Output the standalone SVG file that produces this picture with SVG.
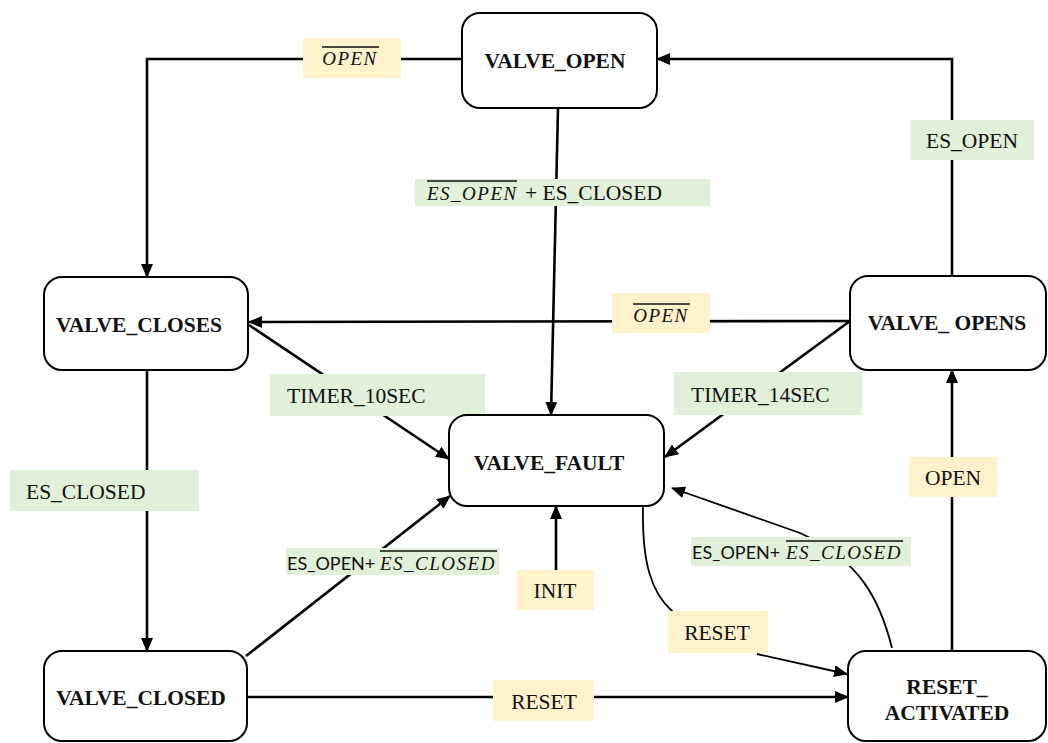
<svg xmlns="http://www.w3.org/2000/svg" width="1048" height="743" viewBox="0 0 1048 743">
  <style>
    .node rect { fill: #ffffff; stroke: #000000; stroke-width: 2; }
    .node text { font-family: "Liberation Serif", "Times New Roman", serif; font-weight: bold; font-size: 21.5px; text-anchor: middle; fill: #111; }
    .edge { fill: none; stroke: #000000; stroke-width: 2.6; }
    .curve { fill: none; stroke: #000000; stroke-width: 1.8; }
    .lbl-y { fill: #fff2cc; }
    .lbl-g { fill: #e2efda; }
    .t { font-family: "Liberation Serif", "Times New Roman", serif; font-size: 21.5px; fill: #111; }
    .m { font-family: "Liberation Serif", "Times New Roman", serif; font-style: italic; font-size: 19px; fill: #111; letter-spacing: 1.5px; }
    .s { font-family: "Lato", "Open Sans", sans-serif; font-size: 18px; fill: #111; }
    .bar { stroke: #111; stroke-width: 1.3; }
  </style>
  <defs>
    <marker id="arrow" markerUnits="userSpaceOnUse" markerWidth="14" markerHeight="12" refX="13" refY="6" orient="auto">
      <path d="M0,0 L14,6 L0,12 Z" fill="#000"/>
    </marker>
  </defs>

  <rect width="1048" height="743" fill="#ffffff"/>

  <g id="connectors">
    <path class="edge" d="M 462 59 H 147 V 277" marker-end="url(#arrow)"/>
    <path class="edge" d="M 558 108 L 551 415" marker-end="url(#arrow)"/>
    <path class="edge" d="M 952 276 V 59 H 657" marker-end="url(#arrow)"/>
    <path class="edge" d="M 850 321 L 249 322" marker-end="url(#arrow)"/>
    <path class="edge" d="M 249 325 L 449 459" marker-end="url(#arrow)"/>
    <path class="edge" d="M 850 321 L 665 457" marker-end="url(#arrow)"/>
    <path class="edge" d="M 147 370 V 651" marker-end="url(#arrow)"/>
    <path class="edge" d="M 246 656 L 450 496" marker-end="url(#arrow)"/>
    <path class="edge" d="M 556 570 V 506" marker-end="url(#arrow)"/>
    <path class="curve" d="M 643 507 C 642 560 650 592 673 612"/>
    <path class="curve" d="M 757 654 L 847 674" marker-end="url(#arrow)"/>
    <path class="curve" d="M 892 648 C 880 600 860 560 800 533 L 672 488" marker-end="url(#arrow)"/>
    <path class="edge" d="M 247 697 H 848" marker-end="url(#arrow)"/>
    <path class="edge" d="M 952 651 V 370" marker-end="url(#arrow)"/>
  </g>

  <g id="labels">
    <g id="lbl-open-top">
      <rect class="lbl-y" x="303" y="38" width="98" height="40"/>
      <text class="m" x="350" y="65" text-anchor="middle">OPEN</text>
      <line class="bar" x1="322" y1="47" x2="379" y2="47"/>
    </g>
    <g id="lbl-esopen-esclosed">
      <rect class="lbl-g" x="415" y="179" width="295" height="27"/>
      <text class="m" x="427" y="200">ES_OPEN</text>
      <line class="bar" x1="427" y1="181" x2="517" y2="181"/>
      <text class="t" x="525" y="200">+ ES_CLOSED</text>
    </g>
    <g id="lbl-esopen">
      <rect class="lbl-g" x="911" y="120" width="123" height="40"/>
      <text class="t" x="972" y="148" text-anchor="middle">ES_OPEN</text>
    </g>
    <g id="lbl-open-mid">
      <rect class="lbl-y" x="612" y="293" width="98" height="40"/>
      <text class="m" x="661" y="322" text-anchor="middle">OPEN</text>
      <line class="bar" x1="633" y1="304" x2="690" y2="304"/>
    </g>
    <g id="lbl-timer10">
      <rect class="lbl-g" x="270" y="374" width="215" height="42"/>
      <text class="t" x="287" y="403">TIMER_10SEC</text>
    </g>
    <g id="lbl-timer14">
      <rect class="lbl-g" x="674" y="372" width="188" height="43"/>
      <text class="t" x="691" y="402">TIMER_14SEC</text>
    </g>
    <g id="lbl-esclosed">
      <rect class="lbl-g" x="10" y="470" width="189" height="41"/>
      <text class="t" x="26" y="499">ES_CLOSED</text>
    </g>
    <g id="lbl-or-left">
      <rect class="lbl-g" x="286" y="548" width="213" height="27"/>
      <text class="s" x="287" y="570">ES_OPEN+</text>
      <text class="m" x="380" y="570" letter-spacing="1.2">ES_CLOSED</text>
      <line class="bar" x1="380" y1="551" x2="497" y2="551"/>
    </g>
    <g id="lbl-init">
      <rect class="lbl-y" x="517" y="570" width="77" height="40"/>
      <text class="t" x="555" y="598" text-anchor="middle">INIT</text>
    </g>
    <g id="lbl-reset-curve">
      <rect class="lbl-y" x="668" y="611" width="100" height="42"/>
      <text class="t" x="717" y="640" text-anchor="middle">RESET</text>
    </g>
    <g id="lbl-or-right">
      <rect class="lbl-g" x="691" y="537" width="220" height="29"/>
      <text class="s" x="692" y="559">ES_OPEN+</text>
      <text class="m" x="786" y="559" letter-spacing="1.2">ES_CLOSED</text>
      <line class="bar" x1="786" y1="541" x2="903" y2="541"/>
    </g>
    <g id="lbl-reset-bottom">
      <rect class="lbl-y" x="493" y="680" width="101" height="41"/>
      <text class="t" x="544" y="709" text-anchor="middle">RESET</text>
    </g>
    <g id="lbl-open-right">
      <rect class="lbl-y" x="909" y="457" width="88" height="40"/>
      <text class="t" x="953" y="485" text-anchor="middle">OPEN</text>
    </g>
  </g>

  <g id="valve_open" class="node">
    <rect x="462" y="13" width="195" height="95" rx="18"/>
    <text x="555" y="68">VALVE_OPEN</text>
  </g>
  <g id="valve_closes" class="node">
    <rect x="44" y="277" width="204" height="93" rx="18"/>
    <text x="139" y="332">VALVE_CLOSES</text>
  </g>
  <g id="valve_opens" class="node">
    <rect x="850" y="276" width="196" height="94" rx="18"/>
    <text x="947" y="330">VALVE_ OPENS</text>
  </g>
  <g id="valve_fault" class="node">
    <rect x="449" y="415" width="215" height="91" rx="18"/>
    <text x="549" y="470">VALVE_FAULT</text>
  </g>
  <g id="valve_closed" class="node">
    <rect x="44" y="651" width="203" height="90" rx="18"/>
    <text x="141" y="705">VALVE_CLOSED</text>
  </g>
  <g id="reset_activated" class="node">
    <rect x="848" y="651" width="198" height="90" rx="18"/>
    <text x="947" y="694">RESET_</text>
    <text x="947" y="720">ACTIVATED</text>
  </g>
</svg>
